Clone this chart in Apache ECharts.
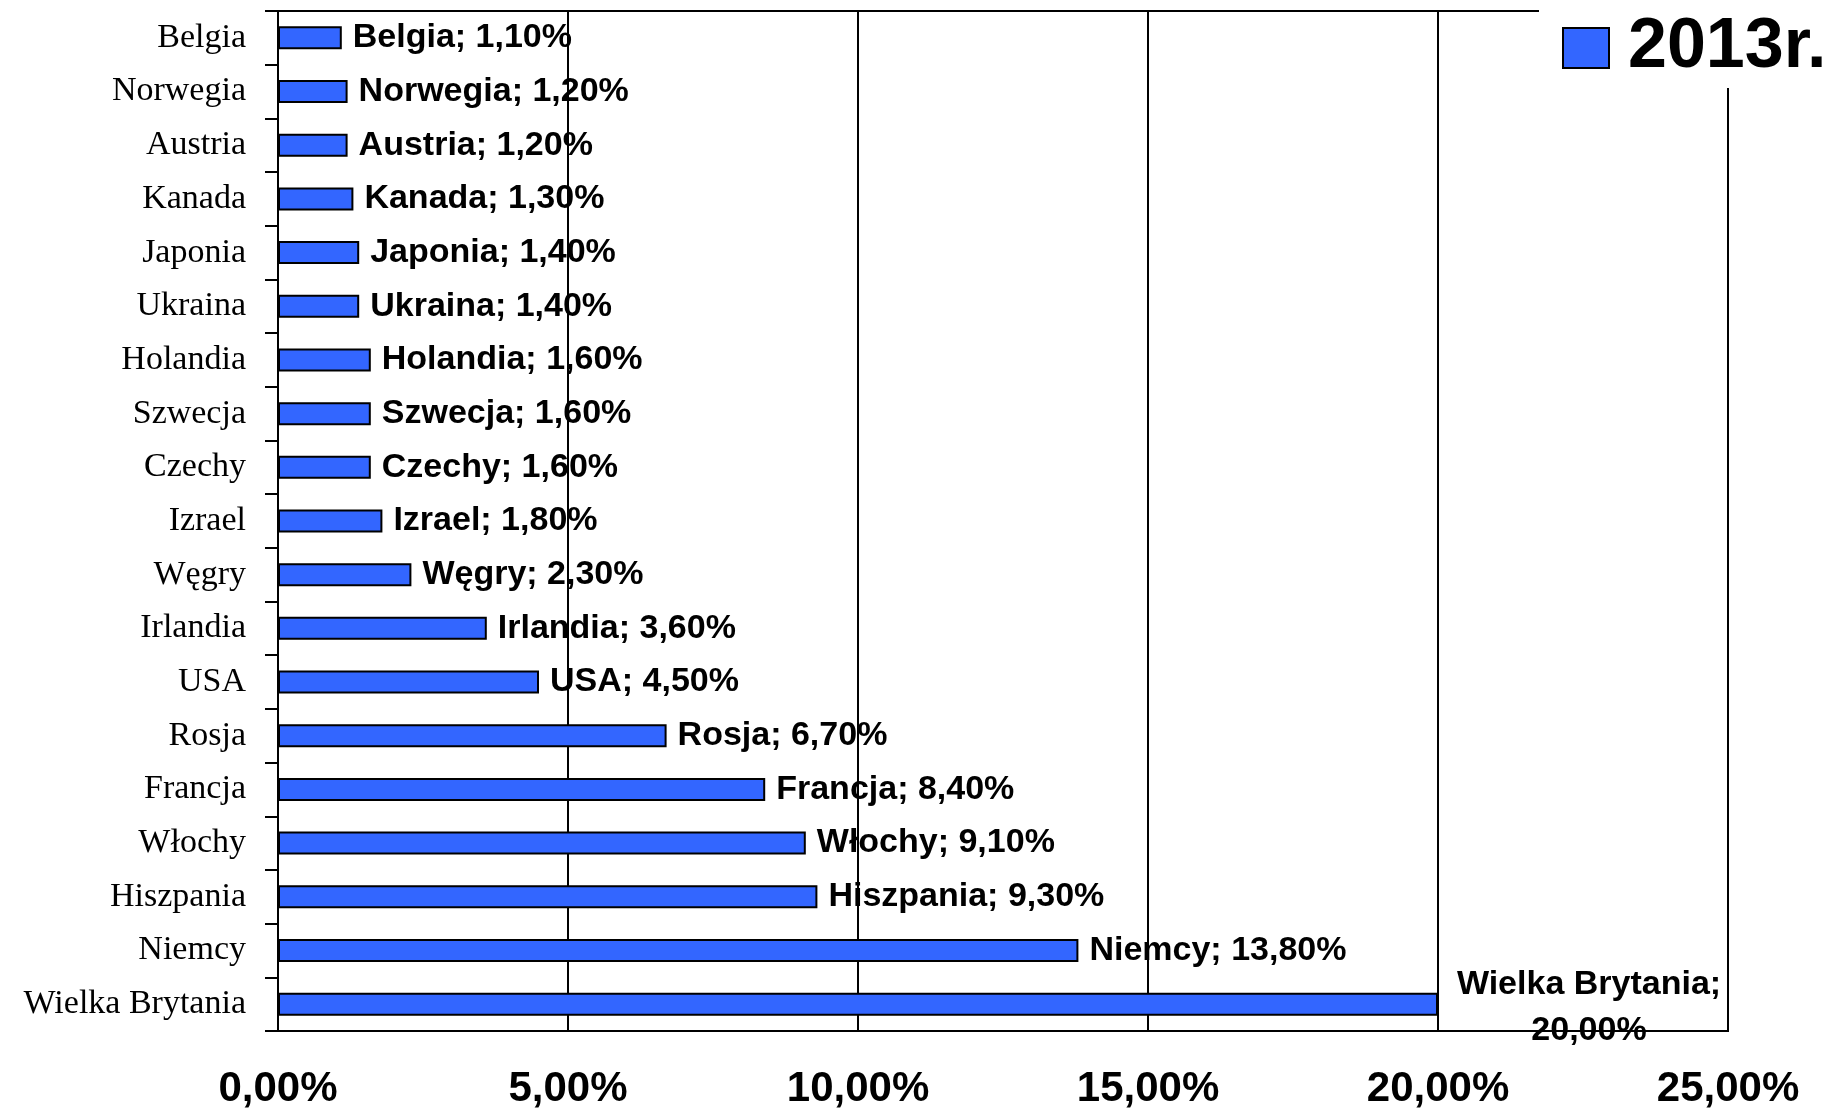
<!DOCTYPE html>
<html>
<head>
<meta charset="utf-8">
<script src="https://cdn.jsdelivr.net/npm/echarts@6/dist/echarts.min.js"></script>
<style>
  html, body { margin: 0; padding: 0; background: #fff; }
  #chart { width: 1831px; height: 1110px; }
</style>
</head>
<body>
<div id="chart"></div>
<script>
// kraje, od gory do dolu
const countries = ['Belgia', 'Norwegia', 'Austria', 'Kanada', 'Japonia', 'Ukraina', 'Holandia', 'Szwecja', 'Czechy', 'Izrael', 'Węgry', 'Irlandia', 'USA', 'Rosja', 'Francja', 'Włochy', 'Hiszpania', 'Niemcy', 'Wielka Brytania']
const shares2013 = [1.1, 1.2, 1.2, 1.3, 1.4, 1.4, 1.6, 1.6, 1.6, 1.8, 2.3, 3.6, 4.5, 6.7, 8.4, 9.1, 9.3, 13.8, 20.0]
const seriesName = '2013r.'
const xTicks = { min: 0, max: 25, step: 5 }

const pct = (v) => Number(v).toFixed(2).replace('.', ',') + '%'

const chart = echarts.init(document.getElementById('chart'))

const seriesData = shares2013.map((v, i) => {
  const item = { name: countries[i], value: v }
  if (countries[i] === 'Wielka Brytania') {
    item.label = {
      formatter: (p) => p.name + ';\n' + pct(p.value),
      align: 'center',
      offset: [140, 3],
      lineHeight: 46
    }
  }
  return item
})

chart.setOption({
  backgroundColor: '#fff',
  animation: false,
  legend: {
    data: [seriesName],
    left: 1539,
    top: 0,
    backgroundColor: '#fff',
    padding: [13, 20, 5, 23],
    itemWidth: 46,
    itemHeight: 40,
    selectedMode: false,
    icon: 'rect',
    itemStyle: { borderColor: '#000', borderWidth: 2 },
    textStyle: {
      fontFamily: 'Liberation Sans',
      fontWeight: 'bold',
      fontSize: 70,
      color: '#000',
      padding: [0, 0, 0, 14]
    },
    z: 10
  },
  grid: {
    left: 278,
    right: 103,
    top: 11,
    bottom: 69,
    show: true,
    borderColor: '#000',
    borderWidth: 2
  },
  xAxis: {
    type: 'value',
    min: xTicks.min,
    max: xTicks.max,
    interval: xTicks.step,
    axisLine: { show: true, lineStyle: { color: '#000', width: 2 } },
    axisTick: { show: false },
    splitLine: { show: true, lineStyle: { color: '#000', width: 2 } },
    axisLabel: {
      formatter: pct,
      margin: 37,
      fontFamily: 'Liberation Sans',
      fontWeight: 'bold',
      fontSize: 42,
      color: '#000'
    }
  },
  yAxis: {
    type: 'category',
    inverse: true,
    data: countries,
    axisLine: { show: true, lineStyle: { color: '#000', width: 2 } },
    axisTick: { show: true, length: 13, lineStyle: { color: '#000', width: 2 } },
    axisLabel: {
      margin: 32,
      fontFamily: 'Liberation Serif',
      fontSize: 34,
      color: '#000'
    }
  },
  series: [
    {
      name: seriesName,
      type: 'bar',
      barWidth: 23,
      data: seriesData,
      itemStyle: {
        color: '#3366FF',
        borderColor: '#000',
        borderWidth: 2
      },
      label: {
        show: true,
        position: 'right',
        distance: 11,
        formatter: (p) => p.name + '; ' + pct(p.value),
        fontFamily: 'Liberation Sans',
        fontWeight: 'bold',
        fontSize: 34,
        color: '#000'
      }
    }
  ]
})
</script>
</body>
</html>
